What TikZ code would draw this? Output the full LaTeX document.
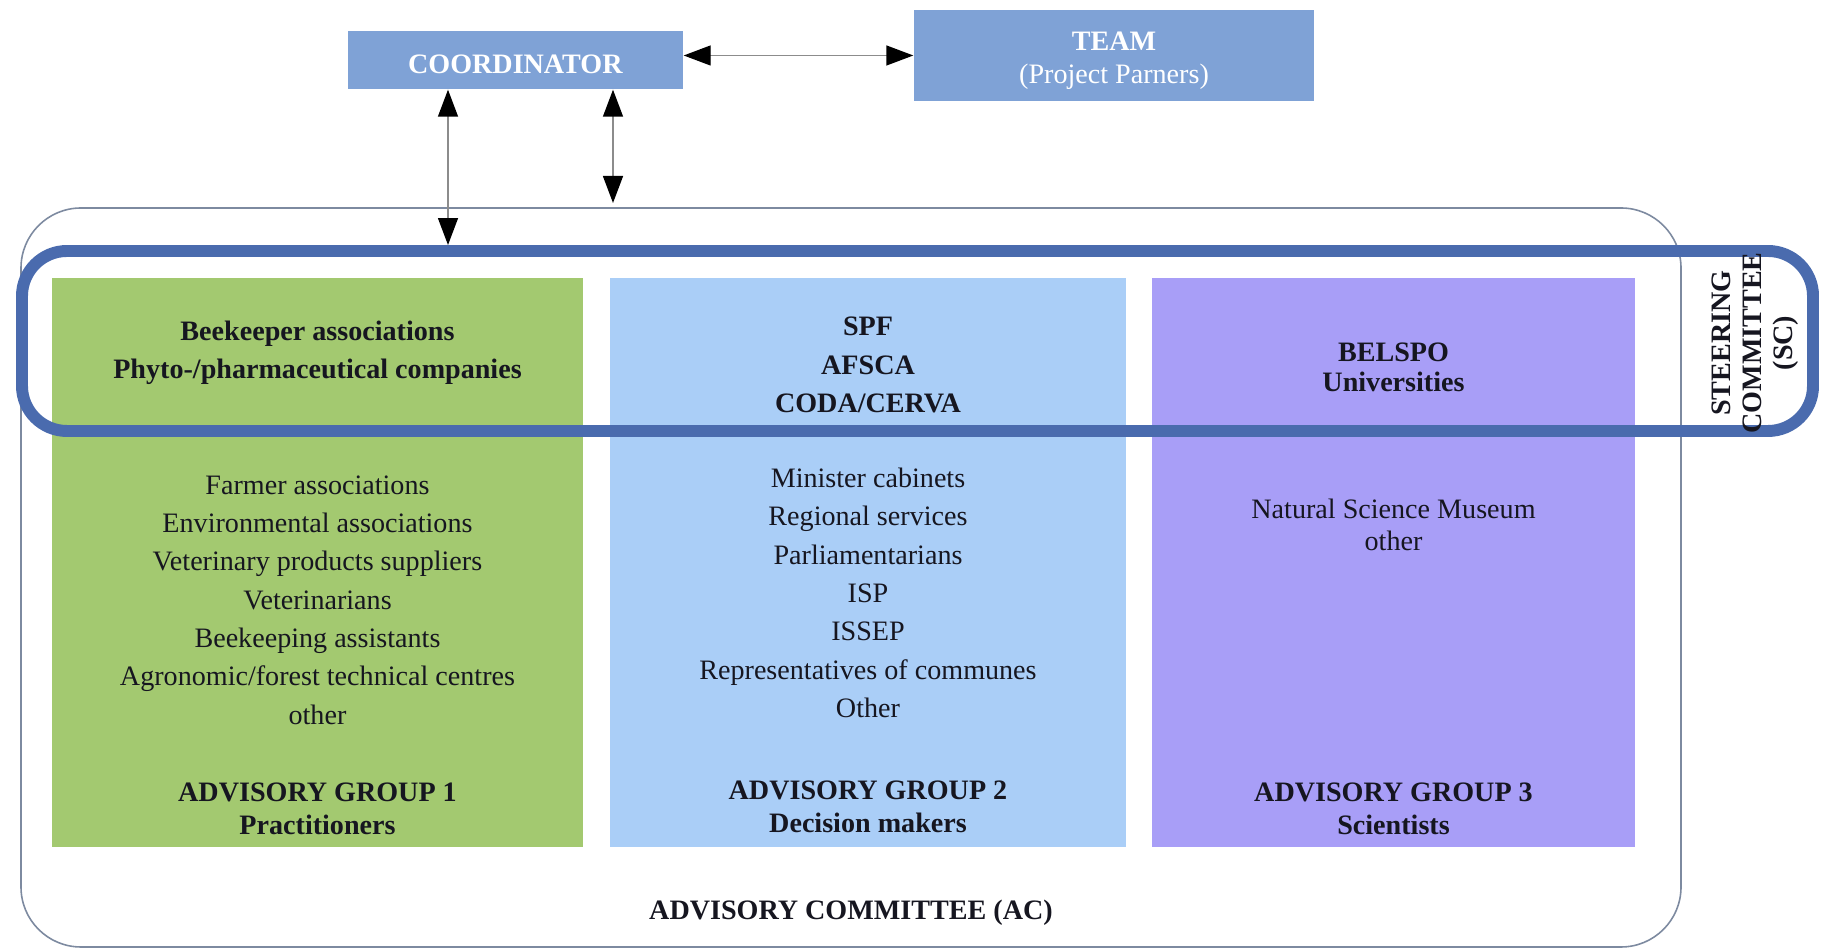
\documentclass[tikz,border=0pt]{standalone}
\usepackage{fontspec}
\setmainfont{Liberation Serif}
\usepackage{xcolor}
\usetikzlibrary{arrows.meta,positioning}

\definecolor{boxblue}{RGB}{127,162,214}
\definecolor{scblue}{RGB}{74,107,174}
\definecolor{acgray}{RGB}{125,138,160}
\definecolor{grpgreen}{RGB}{163,201,112}
\definecolor{grpblue}{RGB}{170,206,247}
\definecolor{grppurple}{RGB}{168,158,247}
\definecolor{txtdark}{RGB}{22,22,32}

\begin{document}
\begin{tikzpicture}[font=\fontsize{8}{10.9}\selectfont,
	headbox/.style={rectangle,fill=boxblue,text=white,align=center,inner sep=0pt},
	grp/.style={rectangle,minimum width=#1,minimum height=5.69cm,inner sep=0pt,outer sep=0pt},
	txt/.style={align=center,text=txtdark,inner sep=1pt},
	hd/.style={txt,font=\fontsize{8}{10.9}\selectfont\bfseries},
	conn/.style={draw=black!45,line width=0.4pt,{Triangle[length=2.7mm,width=2mm,color=black]}-{Triangle[length=2.7mm,width=2mm,color=black]}}]
	\useasboundingbox (0,0) rectangle (18.21,9.5);
	% advisory committee and groups
	\node[draw=acgray,line width=0.45pt,rounded corners=0.6cm,minimum width=16.6cm,minimum height=7.39cm,inner sep=0pt] (ac) at (8.51,3.725) {};
	\node[grp=5.31cm,fill=grpgreen] (g1) at (3.175,3.875) {};
	\node[grp=5.16cm,fill=grpblue,right=0.27cm of g1] (g2) {};
	\node[grp=4.83cm,fill=grppurple,right=0.26cm of g2] (g3) {};
	% steering committee
	\node[draw=scblue,line width=3.4pt,rounded corners=0.45cm,minimum width=17.91cm,minimum height=1.8cm,inner sep=0pt] (sc) at (9.175,6.09) {};
	% top
	\node[headbox,minimum width=3.35cm,minimum height=0.58cm] (coord) at (5.155,8.90) {\rule{0pt}{7.6pt}\textbf{COORDINATOR}};
	\node[headbox,minimum width=4cm,minimum height=0.91cm] (team) at (11.14,8.945) {\rule{0pt}{8.2pt}\textbf{TEAM}\\[-1.6pt](Project Parners)};
	% arrows
	\draw[conn] (team.west) -- (team.west -| coord.east);
	\draw[conn] ([xshift=-0.675cm]coord.south) -- ([xshift=-0.675cm]coord.south |- sc.north);
	\coordinate (acgap) at (6.13,7.47);
	\draw[conn] ([xshift=0.975cm]coord.south) -- (acgap);
	% group 1
	\node[hd] (g1sc) at (3.175,5.975) {Beekeeper associations\\Phyto-/pharmaceutical companies};
	\node[txt] (g1list) at (3.175,3.50) {Farmer associations\\Environmental associations\\Veterinary products suppliers\\Veterinarians\\Beekeeping assistants\\Agronomic/forest technical centres\\other};
	\node[hd] (g1name) at (3.175,1.415) {ADVISORY GROUP 1\\[-1.6pt]Practitioners};
	% group 2
	\node[hd] (g2sc) at (8.68,5.85) {SPF\\AFSCA\\CODA/CERVA};
	\node[txt] (g2list) at (8.68,3.57) {Minister cabinets\\Regional services\\Parliamentarians\\ISP\\ISSEP\\Representatives of communes\\Other};
	\node[hd] (g2name) at (8.68,1.43) {ADVISORY GROUP 2\\[-1.6pt]Decision makers};
	% group 3
	\node[hd] (g3sc) at (13.935,5.83) {BELSPO\\[-2.4pt]Universities};
	\node[txt] (g3list) at (13.935,4.25) {Natural Science Museum\\[-1.6pt]other};
	\node[hd] (g3name) at (13.935,1.415) {ADVISORY GROUP 3\\[-1.6pt]Scientists};
	% labels
	\node[hd] (aclabel) at (8.51,0.37) {ADVISORY COMMITTEE (AC)};
	\node[hd,rotate=90] (sclabel) at (17.55,6.07) {STEERING\\[-2pt]COMMITTEE\\[-2pt](SC)};
\end{tikzpicture}
\end{document}
